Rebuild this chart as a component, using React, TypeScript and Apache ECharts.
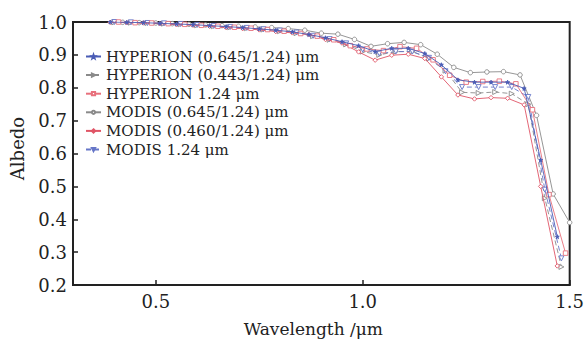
import React, { useEffect, useRef } from "react";
import * as echarts from "echarts";

// Wavelength grids (µm) of each series
const wlHyp645 = [0.39,0.43,0.47,0.51,0.55,0.59,0.63,0.67,0.71,0.75,0.79,0.83,0.87,0.91,0.95,0.99,1.03,1.07,1.11,1.15,1.19,1.23,1.27,1.31,1.35,1.39,1.43,1.47];
const wlHyp443 = [0.40,0.44,0.48,0.52,0.56,0.60,0.64,0.68,0.72,0.76,0.80,0.84,0.88,0.92,0.96,1.00,1.04,1.08,1.12,1.16,1.20,1.24,1.28,1.32,1.36,1.40,1.44,1.48];
const wlHyp124 = [0.41,0.45,0.49,0.53,0.57,0.61,0.65,0.69,0.73,0.77,0.81,0.85,0.89,0.93,0.97,1.01,1.05,1.09,1.13,1.17,1.21,1.25,1.29,1.33,1.37,1.41,1.45,1.49];
const wlMod645 = [0.42,0.46,0.50,0.54,0.58,0.62,0.66,0.70,0.74,0.78,0.82,0.86,0.90,0.94,0.98,1.02,1.06,1.10,1.14,1.18,1.22,1.26,1.30,1.34,1.38,1.42,1.46,1.50];
const wlMod460 = [0.39,0.43,0.47,0.51,0.55,0.59,0.63,0.67,0.71,0.75,0.79,0.83,0.87,0.91,0.95,0.99,1.03,1.07,1.11,1.15,1.19,1.23,1.27,1.31,1.35,1.39,1.43,1.47];
const wlMod124 = [0.40,0.44,0.48,0.52,0.56,0.60,0.64,0.68,0.72,0.76,0.80,0.84,0.88,0.92,0.96,1.00,1.04,1.08,1.12,1.16,1.20,1.24,1.28,1.32,1.36,1.40,1.44,1.48];

// Albedo values
const albHyp645 = [1.0,0.999,0.998,0.996,0.994,0.992,0.989,0.986,0.983,0.979,0.975,0.970,0.962,0.952,0.940,0.928,0.910,0.920,0.920,0.904,0.870,0.824,0.817,0.817,0.817,0.798,0.580,0.347];
const albHyp443 = [0.999,0.998,0.997,0.995,0.993,0.990,0.987,0.984,0.981,0.977,0.972,0.966,0.957,0.946,0.932,0.910,0.900,0.910,0.910,0.889,0.852,0.786,0.784,0.787,0.782,0.750,0.464,0.255];
const albHyp124 = [1.0,0.998,0.997,0.995,0.993,0.990,0.987,0.984,0.981,0.977,0.972,0.965,0.957,0.946,0.928,0.918,0.913,0.925,0.920,0.885,0.838,0.817,0.819,0.820,0.812,0.733,0.475,0.297];
const albMod645 = [0.999,0.998,0.997,0.995,0.993,0.991,0.989,0.987,0.985,0.983,0.980,0.975,0.966,0.963,0.947,0.926,0.934,0.938,0.931,0.902,0.862,0.846,0.848,0.849,0.839,0.716,0.477,0.390];
const albMod460 = [0.999,0.998,0.997,0.995,0.992,0.990,0.987,0.983,0.980,0.976,0.971,0.967,0.962,0.947,0.936,0.909,0.884,0.899,0.902,0.889,0.833,0.778,0.766,0.770,0.768,0.748,0.500,0.258];
const albMod124 = [1.0,0.999,0.997,0.996,0.994,0.991,0.988,0.985,0.982,0.978,0.974,0.968,0.958,0.948,0.935,0.916,0.904,0.910,0.910,0.891,0.850,0.802,0.802,0.802,0.802,0.772,0.490,0.281];

const seriesNames = [
  "HYPERION (0.645/1.24) μm",
  "HYPERION (0.443/1.24) μm",
  "HYPERION 1.24 μm",
  "MODIS (0.645/1.24) μm",
  "MODIS (0.460/1.24) μm",
  "MODIS 1.24 μm",
];

const xTickValues = [0.5, 1.0, 1.5];

const FONT = "DejaVu Serif";
const STAR = "path://M0,-10 L2.35,-3.24 L9.51,-3.09 L3.8,1.24 L5.88,8.09 L0,4 L-5.88,8.09 L-3.8,1.24 L-9.51,-3.09 L-2.35,-3.24 Z";

function pairs(xs: number[], ys: number[]) {
  return xs.map((x, i) => [x, ys[i]]);
}

export default function App() {
  const ref = useRef<HTMLDivElement>(null);
  useEffect(() => {
    if (!ref.current) return;
    const chart = echarts.init(ref.current, null, { renderer: "svg" });
    const mk = (
      name: string,
      data: number[][],
      color: string,
      symbol: string,
      opts: any = {}
    ) => ({
      name,
      type: "line",
      data,
      symbol,
      symbolSize: opts.size ?? 4,
      symbolRotate: opts.rotate ?? 0,
      showSymbol: true,
      lineStyle: { color, width: 0.9, type: opts.dashed ? [5, 3] : "solid" },
      itemStyle: { color: opts.fill ?? "#fff", borderColor: color, borderWidth: 0.9 },
      color,
      z: opts.z ?? 2,
    });
    chart.setOption({
      animation: false,
      backgroundColor: "#fff",
      grid: {
        left: 68,
        top: 22,
        width: 504,
        height: 274,
        show: true,
        borderColor: "#222",
        borderWidth: 2,
        backgroundColor: "transparent",
      },
      legend: {
        orient: "vertical",
        left: 80,
        top: 44,
        itemWidth: 15,
        itemHeight: 4,
        itemGap: 3.6,
        data: seriesNames,
        textStyle: { fontFamily: FONT, fontSize: 15, color: "#222", lineHeight: 15 },
      },
      xAxis: {
        type: "value",
        min: 0.3,
        max: 1.5,
        name: "Wavelength /μm",
        nameLocation: "middle",
        nameGap: 35,
        nameTextStyle: { fontFamily: FONT, fontSize: 17, color: "#222", padding: [0, 16, 0, 0] },
        axisLine: { show: true, lineStyle: { color: "#222", width: 2 } },
        axisTick: { show: true, inside: true, length: 5, customValues: xTickValues, lineStyle: { color: "#222", width: 1.5 } },
        axisLabel: {
          customValues: xTickValues,
          formatter: (v: number) => v.toFixed(1),
          fontFamily: FONT,
          fontSize: 18,
          color: "#222",
          margin: 7,
        },
        splitLine: { show: false },
      },
      yAxis: {
        type: "value",
        min: 0.2,
        max: 1.0,
        interval: 0.1,
        name: "Albedo",
        nameLocation: "middle",
        nameGap: 47,
        nameTextStyle: { fontFamily: FONT, fontSize: 18, color: "#222", padding: [0, 0, 0, 10] },
        axisLine: { show: true, lineStyle: { color: "#222", width: 2 } },
        axisTick: { show: true, inside: true, length: 5, lineStyle: { color: "#222", width: 1.5 } },
        axisLabel: {
          formatter: (v: number) => v.toFixed(1),
          fontFamily: FONT,
          fontSize: 18,
          color: "#222",
          margin: 6,
        },
        splitLine: { show: false },
      },
      series: [
        mk(seriesNames[0], pairs(wlHyp645, albHyp645), "#4a5cb5", STAR, { fill: "#4a5cb5", size: 4, z: 6 }),
        mk(seriesNames[1], pairs(wlHyp443, albHyp443), "#8a8a8a", "triangle", { dashed: true, rotate: -90, size: 5, z: 3 }),
        mk(seriesNames[2], pairs(wlHyp124, albHyp124), "#e8707c", "rect", { size: 4.5, z: 5 }),
        mk(seriesNames[3], pairs(wlMod645, albMod645), "#8a8a8a", "circle", { size: 4.5, z: 2 }),
        mk(seriesNames[4], pairs(wlMod460, albMod460), "#e05566", "diamond", { size: 4.5, z: 4 }),
        mk(seriesNames[5], pairs(wlMod124, albMod124), "#6676c8", "triangle", { dashed: true, rotate: 180, size: 5, z: 3 }),
      ],
    });
    return () => chart.dispose();
  }, []);
  return (
    <div
      ref={ref}
      style={{ position: "absolute", left: 0, top: 0, width: 587, height: 342, background: "#fff" }}
    />
  );
}
